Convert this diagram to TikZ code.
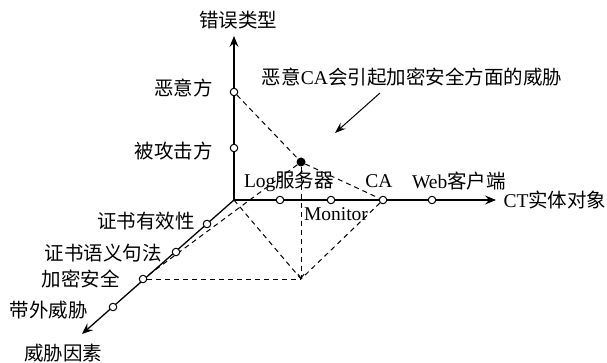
\documentclass[tikz,border=0pt]{standalone}
\usepackage{fontspec}
\setmainfont{Liberation Serif}
\newfontfamily\cjk{Noto Sans CJK SC}
\usetikzlibrary{arrows.meta}
\pgfdeclarelayer{bg}
\pgfsetlayers{bg,main}
\begin{document}
\begin{tikzpicture}[x=1pt,y=-1pt,
  ax/.style={line width=1.3pt,-{Stealth[length=11pt,width=9pt,inset=4pt]}},
  dsh/.style={line width=1pt,dash pattern=on 5pt off 4pt},
  odot/.style={circle,draw,line width=1pt,fill=white,inner sep=0pt,minimum size=7.5pt},
  fdot/.style={circle,fill=black,inner sep=0pt,minimum size=9pt},
  lab/.style={font=\fontsize{19.5}{23}\selectfont,inner sep=0pt}]
\useasboundingbox (0,0) rectangle (607,363);
% axes
\coordinate (O) at (234,200);
\coordinate (Ytip) at (234,36);
\coordinate (Xtip) at (496,200);
\coordinate (Ztip) at (82,334);
\coordinate (B) at (301,279);
\draw[ax] (O) -- (Ytip);
\draw[ax] (O) -- (Xtip);
\draw[ax] (O) -- (Ztip);
% dots
\node[odot] (y1) at (234,92) {};
\node[odot] (y2) at (234,148) {};
\node[odot] (x1) at (280,200) {};
\node[odot] (x2) at (331,200) {};
\node[odot] (x3) at (383,200) {};
\node[odot] (x4) at (432,200) {};
\node[odot] (z1) at (207,224) {};
\node[odot] (z2) at (176,252) {};
\node[odot] (z3) at (143,279) {};
\node[odot] (z4) at (113,307) {};
\node[fdot] (P) at (301,162) {};
% dashed projection lines
\begin{pgfonlayer}{bg}
\draw[dsh] (y1) -- (P) -- (x3);
\draw[dsh] (P) -- (z3);
\draw[dsh,-{Straight Barb[length=4pt,width=6pt]}] (P) -- (B);
\draw[dsh] (O) -- (B);
\draw[dsh] (x3) -- (B);
\draw[dsh] (z3) -- (B);
\end{pgfonlayer}
% labels
\node[lab] (ly) at (238,20) {\cjk 错误类型};
\node[lab] (lx) at (555,200) {CT{\cjk 实体对象}};
\node[lab] (lz) at (63,353) {\cjk 威胁因素};
\node[lab,anchor=east] (ly1) at (213,88) {\cjk 恶意方};
\node[lab,anchor=east] (ly2) at (213,151) {\cjk 被攻击方};
\node[lab] (lx1) at (289,181) {Log{\cjk 服务器}};
\node[lab] (lx2) at (336,214) {Monitor};
\node[lab] (lx3) at (379,181) {CA};
\node[lab] (lx4) at (459,181) {Web{\cjk 客户端}};
\node[lab,anchor=east] (lz1) at (195,221) {\cjk 证书有效性};
\node[lab,anchor=east] (lz2) at (162,253) {\cjk 证书语义句法};
\node[lab,anchor=east] (lz3) at (120,279) {\cjk 加密安全};
\node[lab,anchor=east] (lz4) at (88,310) {\cjk 带外威胁};
\node[lab] (note) at (412,77) {{\cjk 恶意}CA{\cjk 会引起加密安全方面的威胁}};
\coordinate (ns) at (380,93);
\coordinate (ne) at (335,133);
\draw[line width=1pt,-{Stealth[length=11pt,width=8pt,inset=4pt]}] (ns) -- (ne);
\end{tikzpicture}
\end{document}
